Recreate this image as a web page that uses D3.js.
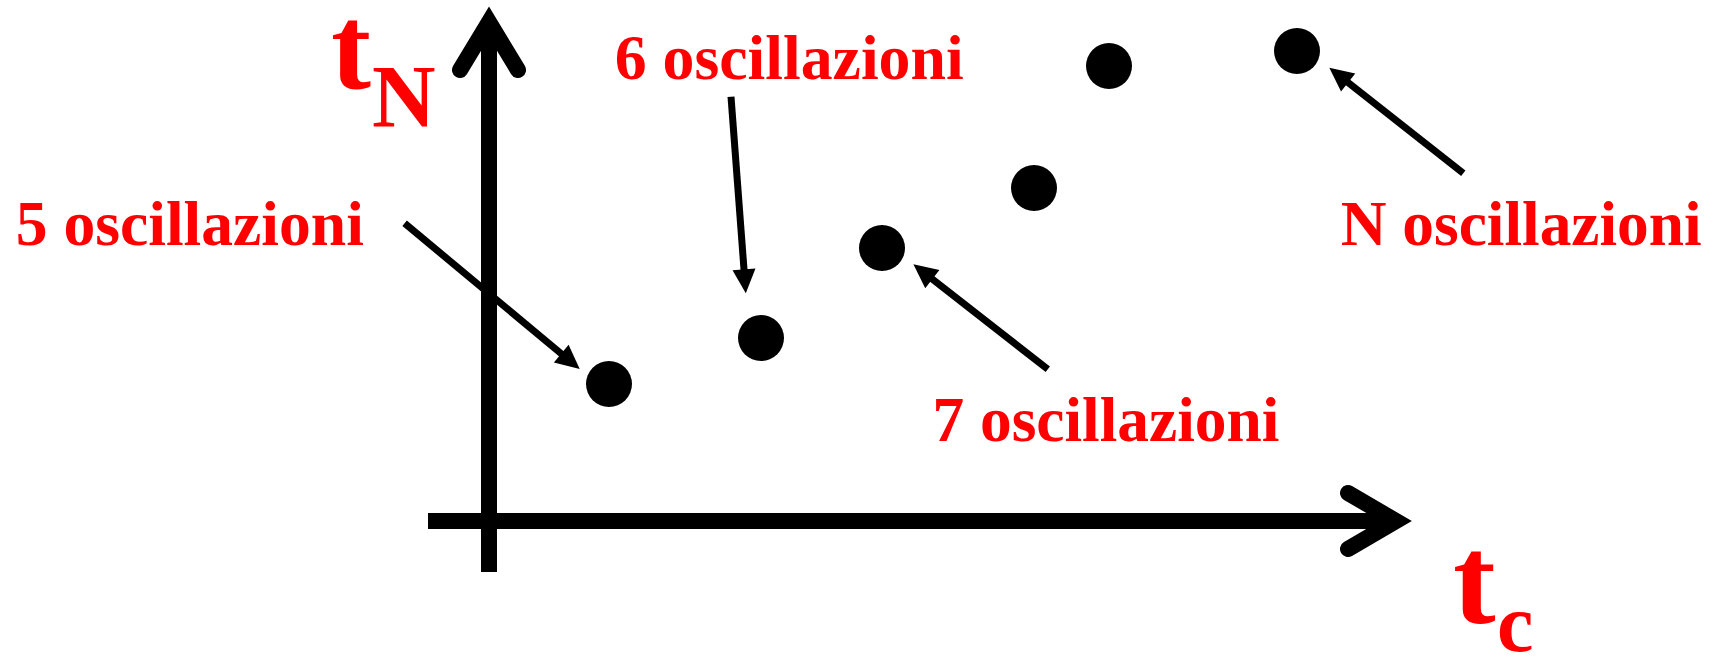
<!DOCTYPE html>
<html><head><meta charset="utf-8">
<script src="https://cdn.jsdelivr.net/npm/d3@7"></script>
<style>html,body{margin:0;padding:0;background:#fff;overflow:hidden}</style>
</head><body>
<script>
// ---- data (abstract units) ----
const tcValues = [1.20, 2.72, 3.93, 5.45, 6.20, 8.08];   // horizontal (t_c)
const tNValues = [1.37, 1.83, 2.73, 3.33, 4.55, 4.70];   // vertical (t_N)
const annotationTexts = ["5 oscillazioni", "6 oscillazioni", "7 oscillazioni", "N oscillazioni"];
// label anchor (left, baseline) and arrow start/tip, in the same data units
const labelX = [-4.732, 1.257, 4.434, 8.517];
const labelY = [2.76, 4.42, 0.803, 2.76];
const labelWidth = [348, 349, 347, 361];
const arrowFromX = [-0.844, 2.42, 5.588, 9.743];
const arrowFromY = [2.977, 4.243, 1.517, 3.477];
const arrowToX = [0.907, 2.568, 4.244, 8.403];
const arrowToY = [1.52, 2.277, 2.567, 4.533];
const xAxisMain = "t", xAxisSub = "c";
const yAxisMain = "t", yAxisSub = "N";

const W = 1715, H = 658;
const svg = d3.select("body").append("svg").attr("width", W).attr("height", H)
  .style("display", "block").style("background", "#fff");

const x = d3.scaleLinear().domain([0, 9.22]).range([489, 1411]);
const y = d3.scaleLinear().domain([0, 5.14]).range([521, 7]);

const axisW = 16;
const g = svg.append("g");

// horizontal axis
const hx0 = x(-0.61), hx1 = x(9.22), hy = y(0);
g.append("line").attr("x1", hx0).attr("y1", hy).attr("x2", hx1 - 15).attr("y2", hy)
  .attr("stroke", "#000").attr("stroke-width", axisW);
g.append("path")
  .attr("d", `M${hx1 - 63},${hy - 28}L${hx1 - 15},${hy}L${hx1 - 63},${hy + 28}`)
  .attr("fill", "none").attr("stroke", "#000").attr("stroke-width", axisW)
  .attr("stroke-linecap", "round").attr("stroke-linejoin", "miter").attr("stroke-miterlimit", 10);

// vertical axis
const vx = x(0), vy0 = y(-0.51), vy1 = y(5.14);
g.append("line").attr("x1", vx).attr("y1", vy0).attr("x2", vx).attr("y2", vy1 + 15)
  .attr("stroke", "#000").attr("stroke-width", axisW);
g.append("path")
  .attr("d", `M${vx - 29},${vy1 + 63}L${vx},${vy1 + 15}L${vx + 29},${vy1 + 63}`)
  .attr("fill", "none").attr("stroke", "#000").attr("stroke-width", axisW)
  .attr("stroke-linecap", "round").attr("stroke-linejoin", "miter").attr("stroke-miterlimit", 10);

// points
g.selectAll("circle.pt").data(tcValues.map((v, i) => [v, tNValues[i]])).join("circle")
  .attr("class", "pt").attr("cx", d => x(d[0])).attr("cy", d => y(d[1])).attr("r", 23)
  .attr("fill", "#000");

// annotation arrows
function arrow(x0, y0, x1, y1) {
  const dx = x1 - x0, dy = y1 - y0, L = Math.hypot(dx, dy), ux = dx / L, uy = dy / L;
  const headLen = 24, headW = 23;
  const bx = x1 - ux * headLen, by = y1 - uy * headLen;
  g.append("line").attr("x1", x0).attr("y1", y0).attr("x2", bx + ux * 3).attr("y2", by + uy * 3)
    .attr("stroke", "#000").attr("stroke-width", 7);
  g.append("path")
    .attr("d", `M${x1},${y1}L${bx - uy * headW / 2},${by + ux * headW / 2}L${bx + uy * headW / 2},${by - ux * headW / 2}Z`)
    .attr("fill", "#000");
}
annotationTexts.forEach((t, i) => {
  arrow(x(arrowFromX[i]), y(arrowFromY[i]), x(arrowToX[i]), y(arrowToY[i]));
});

const font = "'Liberation Serif', 'Times New Roman', Times, serif";
annotationTexts.forEach((t, i) => {
  svg.append("text").attr("x", x(labelX[i])).attr("y", y(labelY[i]))
    .attr("font-family", font).attr("font-weight", "bold").attr("font-size", 64)
    .attr("fill", "#ff0000")
    .attr("textLength", labelWidth[i]).attr("lengthAdjust", "spacingAndGlyphs")
    .text(t);
});

// axis labels
function axisLabel(mainX, mainY, mainSize, main, subX, subY, subSize, sub) {
  svg.append("text").attr("x", mainX).attr("y", mainY).attr("font-family", font)
    .attr("font-weight", "bold").attr("font-size", mainSize).attr("fill", "#ff0000").text(main);
  svg.append("text").attr("x", subX).attr("y", subY).attr("font-family", font)
    .attr("font-weight", "bold").attr("font-size", subSize).attr("fill", "#ff0000").text(sub);
}
axisLabel(vx - 158, 88, 120, yAxisMain, vx - 117, 126, 88, yAxisSub);
axisLabel(hx1 + 42, 623, 128, xAxisMain, hx1 + 86, 651, 82, xAxisSub);
</script>
</body></html>
